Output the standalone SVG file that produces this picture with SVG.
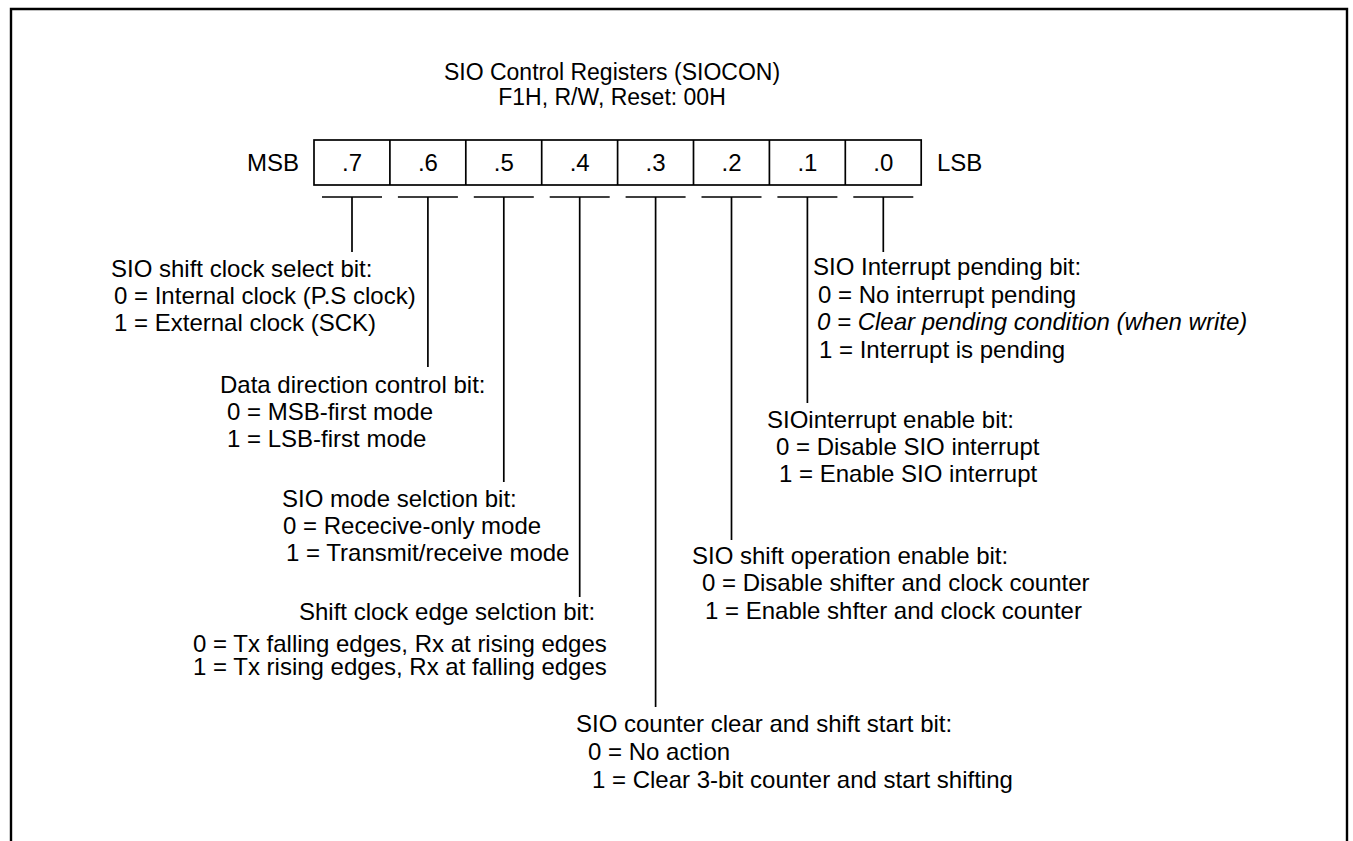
<svg xmlns="http://www.w3.org/2000/svg" width="1353" height="841" viewBox="0 0 1353 841">
<style>
text{font-family:"Liberation Sans",Arial,sans-serif;font-size:24px;fill:#000}
.c{text-anchor:middle}
.t{font-size:23px}
.it{font-style:italic}
.ln{stroke:#000;stroke-width:1.7;fill:none}
.box{stroke:#000;stroke-width:1.7;fill:#fff}
</style>
<rect width="1353" height="841" fill="#fff"/>
<path d="M11,841 V9 H1347 V841" fill="none" stroke="#000" stroke-width="2.4"/>
<g id="title">
<text class="c t" x="612" y="80">SIO Control Registers (SIOCON)</text>
<text class="c t" x="612" y="105">F1H, R/W, Reset: 00H</text>
</g>
<g id="register">
<rect class="box" x="314" y="140" width="607.2" height="45"/>
<path class="ln" d="M389.9,140V185M465.8,140V185M541.7,140V185M617.6,140V185M693.5,140V185M769.4,140V185M845.3,140V185"/>
<text x="299" y="171" text-anchor="end">MSB</text>
<text x="937" y="171">LSB</text>
<text class="c" x="352" y="171">.7</text>
<text class="c" x="427.9" y="171">.6</text>
<text class="c" x="503.8" y="171">.5</text>
<text class="c" x="579.7" y="171">.4</text>
<text class="c" x="655.6" y="171">.3</text>
<text class="c" x="731.5" y="171">.2</text>
<text class="c" x="807.4" y="171">.1</text>
<text class="c" x="883.3" y="171">.0</text>
</g>
<g id="connectors" class="ln">
<path d="M322,197H382M352,197V252"/>
<path d="M397.9,197H457.9M427.9,197V367"/>
<path d="M473.8,197H533.8M503.8,197V482"/>
<path d="M549.7,197H609.7M579.7,197V597"/>
<path d="M625.6,197H685.6M655.6,197V707"/>
<path d="M701.5,197H761.5M731.5,197V540"/>
<path d="M777.4,197H837.4M807.4,197V403"/>
<path d="M853.3,197H913.3M883.3,197V252"/>
</g>
<g id="bit7">
<text x="111" y="277">SIO shift clock select bit:</text>
<text x="114" y="304">0 = Internal clock (P.S clock)</text>
<text x="114" y="331">1 = External clock (SCK)</text>
</g>
<g id="bit6">
<text x="220" y="393">Data direction control bit:</text>
<text x="227" y="420">0 = MSB-first mode</text>
<text x="227" y="447">1 = LSB-first mode</text>
</g>
<g id="bit5">
<text x="282" y="507">SIO mode selction bit:</text>
<text x="283" y="534">0 = Rececive-only mode</text>
<text x="286" y="561">1 = Transmit/receive mode</text>
</g>
<g id="bit4">
<text x="299" y="620">Shift clock edge selction bit:</text>
<text x="193" y="652">0 = Tx falling edges, Rx at rising edges</text>
<text x="193" y="675">1 = Tx rising edges, Rx at falling edges</text>
</g>
<g id="bit3">
<text x="576" y="732">SIO counter clear and shift start bit:</text>
<text x="588" y="760">0 = No action</text>
<text x="592" y="788">1 = Clear 3-bit counter and start shifting</text>
</g>
<g id="bit2">
<text x="692" y="564">SIO shift operation enable bit:</text>
<text x="702" y="591">0 = Disable shifter and clock counter</text>
<text x="705" y="619">1 = Enable shfter and clock counter</text>
</g>
<g id="bit1">
<text x="767" y="428">SIOinterrupt enable bit:</text>
<text x="776" y="455">0 = Disable SIO interrupt</text>
<text x="779" y="482">1 = Enable SIO interrupt</text>
</g>
<g id="bit0">
<text x="813" y="275">SIO Interrupt pending bit:</text>
<text x="818" y="303">0 = No interrupt pending</text>
<text class="it" x="817" y="330">0 = Clear pending condition (when write)</text>
<text x="819" y="358">1 = Interrupt is pending</text>
</g>
</svg>
